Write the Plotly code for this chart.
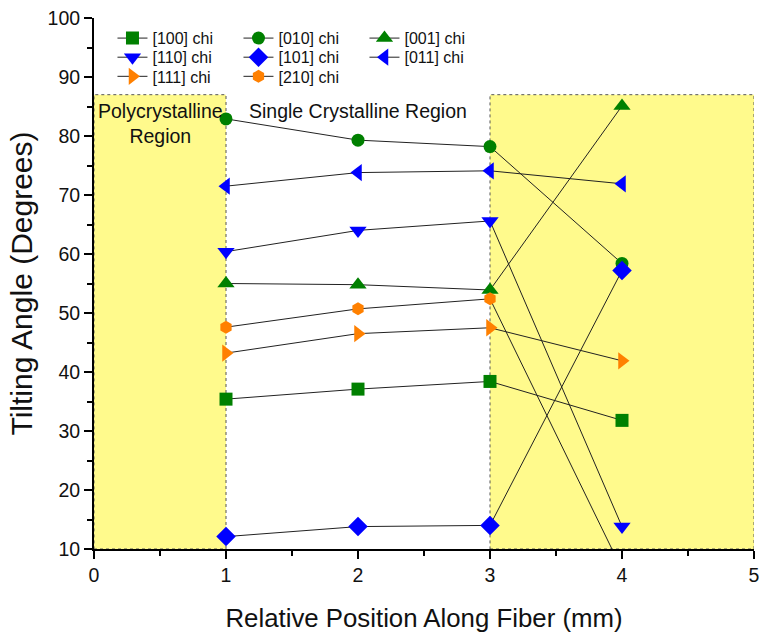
import plotly.graph_objects as go

# Relative position along the fiber (mm)
positions = [1, 2, 3, 4]

# Tilting angle (degrees) per crystallographic direction
chi_100 = [35.4, 37.1, 38.4, 31.8]
chi_010 = [82.9, 79.3, 78.2, 58.4]
chi_001 = [55.0, 54.8, 53.9, 85.1]
chi_110 = [60.4, 64.0, 65.6, 13.8]
chi_101 = [12.1, 13.8, 14.0, 57.2]
chi_011 = [71.5, 73.8, 74.1, 71.9]
chi_111 = [43.2, 46.5, 47.5, 41.9]
chi_210 = [47.6, 50.7, 52.4, 6.5]

GREEN = "#008000"
BLUE = "#0000FF"
ORANGE = "#FF8000"

series = [
    ("[100] chi", chi_100, "square", GREEN, "legend"),
    ("[010] chi", chi_010, "circle", GREEN, "legend"),
    ("[001] chi", chi_001, "triangle-up", GREEN, "legend"),
    ("[110] chi", chi_110, "triangle-down", BLUE, "legend2"),
    ("[101] chi", chi_101, "diamond", BLUE, "legend2"),
    ("[011] chi", chi_011, "triangle-left", BLUE, "legend2"),
    ("[111] chi", chi_111, "triangle-right", ORANGE, "legend3"),
    ("[210] chi", chi_210, "hexagon", ORANGE, "legend3"),
]

fig = go.Figure()
for name, vals, symbol, color, leg in series:
    size = 13 if symbol in ("square", "circle", "hexagon") else 15
    fig.add_trace(go.Scatter(
        x=positions, y=vals, name=name, mode="lines+markers",
        line=dict(color="#222222", width=1),
        marker=dict(symbol=symbol, color=color, size=size,
                    line=dict(width=0)),
        legend=leg,
    ))

FONT = "Liberation Sans, Arial, sans-serif"

# Shaded regions
region_top = 87
fig.add_shape(type="rect", x0=0, x1=1, y0=10, y1=region_top, layer="below",
              fillcolor="#FFFA8C", line=dict(color="#555555", width=1, dash="dot"))
fig.add_shape(type="rect", x0=3, x1=5, y0=10, y1=region_top, layer="below",
              fillcolor="#FFFA8C", line=dict(color="#555555", width=1, dash="dot"))

fig.add_annotation(x=0.5, y=86.4, text="Polycrystalline<br>Region", showarrow=False,
                   xanchor="center", yanchor="top", font=dict(family=FONT, size=19.5, color="#111111"))
fig.add_annotation(x=2.0, y=86.4, text="Single Crystalline Region", showarrow=False,
                   xanchor="center", yanchor="top", font=dict(family=FONT, size=19.5, color="#111111"))

legend_common = dict(orientation="h", xanchor="left", yanchor="top",
                     bgcolor="rgba(0,0,0,0)", font=dict(family=FONT, size=16, color="#111111"),
                     entrywidth=81, itemwidth=30, tracegroupgap=0, traceorder="normal")

fig.update_layout(
    width=761, height=636,
    margin=dict(l=94, r=7, t=18, b=87),
    paper_bgcolor="white", plot_bgcolor="white",
    showlegend=True,
    legend=dict(x=0.028, y=0.994, **legend_common),
    legend2=dict(x=0.028, y=0.958, **legend_common),
    legend3=dict(x=0.028, y=0.922, **legend_common),
    xaxis=dict(range=[0, 5], tickvals=[0, 1, 2, 3, 4, 5], showgrid=False, zeroline=False,
               automargin=False,
               showline=True, linecolor="black", linewidth=2, ticks="outside",
               ticklen=8, tickwidth=2, tickcolor="black",
               minor=dict(dtick=0.5, ticks="outside", ticklen=5, tickwidth=2, tickcolor="black"),
               tickfont=dict(family=FONT, size=19.5, color="#111111"),
               title=dict(text="Relative Position Along Fiber (mm)", standoff=24,
                          font=dict(family=FONT, size=25.8, color="#111111"))),
    yaxis=dict(range=[10, 100], tickvals=list(range(10, 101, 10)), showgrid=False, zeroline=False,
               automargin=False,
               showline=True, linecolor="black", linewidth=2, ticks="outside",
               ticklen=8, tickwidth=2, tickcolor="black",
               minor=dict(dtick=5, ticks="outside", ticklen=5, tickwidth=2, tickcolor="black"),
               tickfont=dict(family=FONT, size=19.5, color="#111111"),
               title=dict(text="Tilting Angle (Degrees)", standoff=6,
                          font=dict(family=FONT, size=30, color="#111111"))),
)

fig.write_html("out.html")
